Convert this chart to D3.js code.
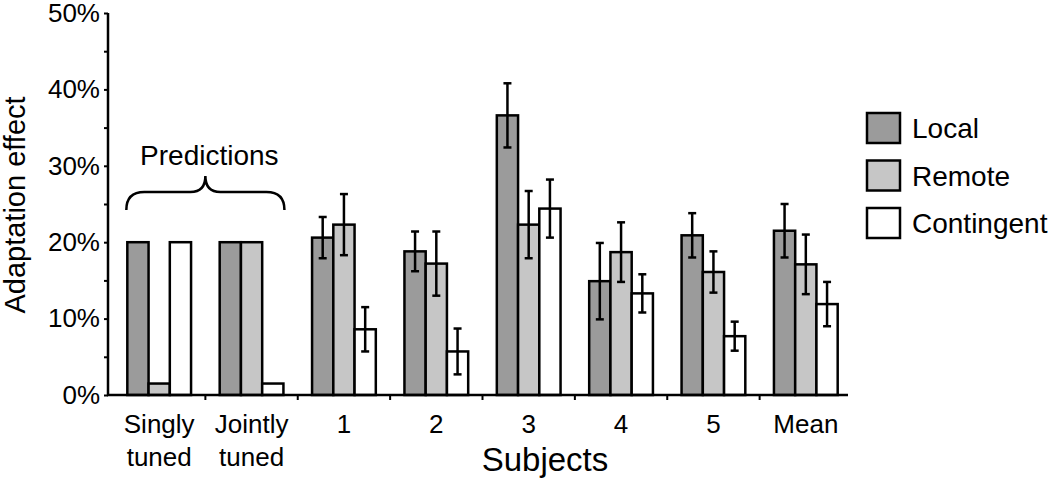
<!DOCTYPE html>
<html>
<head>
<meta charset="utf-8">
<script src="https://cdn.jsdelivr.net/npm/d3@7"></script>
<style>
  body { margin: 0; background: #fff; }
  text { font-family: "Liberation Sans", Arial, Helvetica, sans-serif; fill: #000; }
</style>
</head>
<body>
<div class="chart"></div>
<script>
// categories and series
var categories = ["Singly tuned", "Jointly tuned", "1", "2", "3", "4", "5", "Mean"];
var series = ["Local", "Remote", "Contingent"];
var colors = ["#9b9b9b", "#c6c6c6", "#ffffff"];

// values in %
var local      = [20, 20, 20.6, 18.8, 36.6, 14.9, 20.9, 21.5];
var remote     = [1.5, 20, 22.3, 17.2, 22.3, 18.7, 16.1, 17.1];
var contingent = [20, 1.5, 8.6, 5.7, 24.4, 13.3, 7.7, 11.9];

// error bars (+/-), none for predictions
var localErr      = [null, null, 2.7, 2.6, 4.2, 5.0, 2.9, 3.5];
var remoteErr     = [null, null, 4.0, 4.2, 4.4, 3.9, 2.7, 3.9];
var contingentErr = [null, null, 2.9, 3.0, 3.8, 2.5, 1.9, 2.9];

var yTicks = [0, 10, 20, 30, 40, 50];

var w = 1050, h = 481;
var svg = d3.select(".chart").append("svg")
  .attr("width", w)
  .attr("height", h);

var y = d3.scaleLinear().domain([0, 50]).range([395, 13]);
var x = d3.scaleBand().domain(categories).range([113, 852])
  .paddingInner(0.31).paddingOuter(0.155);
var xs = d3.scaleBand().domain(series).range([0, x.bandwidth()]);

var vals = [local, remote, contingent];
var errs = [localErr, remoteErr, contingentErr];

var rows = [];
categories.forEach(function(c, i) {
  series.forEach(function(s, j) {
    rows.push({cat: c, ser: s, v: vals[j][i], e: errs[j][i], col: colors[j]});
  });
});

// bars
svg.append("g").selectAll("rect").data(rows).enter().append("rect")
  .attr("x", function(d) { return x(d.cat) + xs(d.ser); })
  .attr("y", function(d) { return y(d.v); })
  .attr("width", xs.bandwidth())
  .attr("height", function(d) { return y(0) - y(d.v); })
  .attr("fill", function(d) { return d.col; })
  .attr("stroke", "#000")
  .attr("stroke-width", 2.5);

// error bars
var eb = svg.append("g").selectAll("g").data(rows.filter(function(d) { return d.e != null; }))
  .enter().append("g")
  .attr("stroke", "#000").attr("stroke-width", 2.5);
eb.append("line")
  .attr("x1", function(d) { return x(d.cat) + xs(d.ser) + xs.bandwidth() / 2; })
  .attr("x2", function(d) { return x(d.cat) + xs(d.ser) + xs.bandwidth() / 2; })
  .attr("y1", function(d) { return y(d.v + d.e); })
  .attr("y2", function(d) { return y(d.v - d.e); });
[1, -1].forEach(function(sg) {
  eb.append("line")
    .attr("x1", function(d) { return x(d.cat) + xs(d.ser) + xs.bandwidth() / 2 - 4; })
    .attr("x2", function(d) { return x(d.cat) + xs(d.ser) + xs.bandwidth() / 2 + 4; })
    .attr("y1", function(d) { return y(d.v + sg * d.e); })
    .attr("y2", function(d) { return y(d.v + sg * d.e); });
});

// y axis
var yAxis = d3.axisLeft(y).tickValues(d3.range(0, 51, 5)).tickSize(4)
  .tickFormat(function(d) { return yTicks.indexOf(d) >= 0 ? d + "%" : ""; });
var gy = svg.append("g").attr("transform", "translate(108,0)").call(yAxis);
gy.select(".domain").remove();
gy.selectAll(".tick line").attr("stroke", "#000").attr("stroke-width", 2);
gy.selectAll(".tick text").attr("x", -8).style("font-size", "26px")
  .style("font-family", "'Liberation Sans', Arial, sans-serif");
svg.append("line").attr("x1", 108).attr("x2", 108).attr("y1", y(50)).attr("y2", y(0) + 1)
  .attr("stroke", "#000").attr("stroke-width", 2.5);

// x axis
svg.append("line").attr("x1", 107).attr("x2", 848).attr("y1", y(0)).attr("y2", y(0))
  .attr("stroke", "#000").attr("stroke-width", 2.5);
var step = x.step();
svg.append("g").selectAll("line").data(categories.slice(0, -1)).enter().append("line")
  .attr("x1", function(d) { return x(d) + x.bandwidth() + step * x.paddingInner() / 2; })
  .attr("x2", function(d) { return x(d) + x.bandwidth() + step * x.paddingInner() / 2; })
  .attr("y1", y(0)).attr("y2", y(0) + 5)
  .attr("stroke", "#000").attr("stroke-width", 2);

// category labels (two lines for predictions)
var labs = svg.append("g").selectAll("text").data(categories).enter().append("text")
  .attr("text-anchor", "middle")
  .style("font-size", "26px")
  .attr("transform", function(d) { return "translate(" + (x(d) + x.bandwidth() / 2) + ",433)"; });
labs.each(function(d) {
  var parts = d.split(" ");
  var t = d3.select(this);
  parts.forEach(function(p, k) {
    t.append("tspan").attr("x", 0).attr("dy", k === 0 ? 0 : 33).text(p);
  });
});

svg.append("text").attr("x", 545).attr("y", 471).attr("text-anchor", "middle")
  .style("font-size", "33px").text("Subjects");

svg.append("text").attr("transform", "translate(25,205) rotate(-90)")
  .attr("text-anchor", "middle").style("font-size", "29px").text("Adaptation effect");

// predictions brace
var bx0 = x(categories[0]) - 1, bx1 = x(categories[1]) + x.bandwidth() + 1;
var bm = (bx0 + bx1) / 2;
svg.append("path")
  .attr("d", "M" + bx0 + ",210 Q" + bx0 + ",192 " + (bx0 + 18) + ",192 L" + (bm - 15) + ",192 Q" + bm + ",192 " + bm + ",176" +
    " Q" + bm + ",192 " + (bm + 15) + ",192 L" + (bx1 - 18) + ",192 Q" + bx1 + ",192 " + bx1 + ",210")
  .attr("fill", "none").attr("stroke", "#000").attr("stroke-width", 2.5);
svg.append("text").attr("x", bm + 4).attr("y", 165).attr("text-anchor", "middle")
  .style("font-size", "28px").text("Predictions");

// legend
var lg = svg.append("g").selectAll("g").data(series).enter().append("g")
  .attr("transform", function(d, i) { return "translate(867," + (113 + i * 47.5) + ")"; });
lg.append("rect").attr("width", 33).attr("height", 30)
  .attr("fill", function(d, i) { return colors[i]; })
  .attr("stroke", "#000").attr("stroke-width", 2.5);
lg.append("text").attr("x", 45).attr("y", 25).style("font-size", "28px")
  .text(function(d) { return d; });
</script>
</body>
</html>
